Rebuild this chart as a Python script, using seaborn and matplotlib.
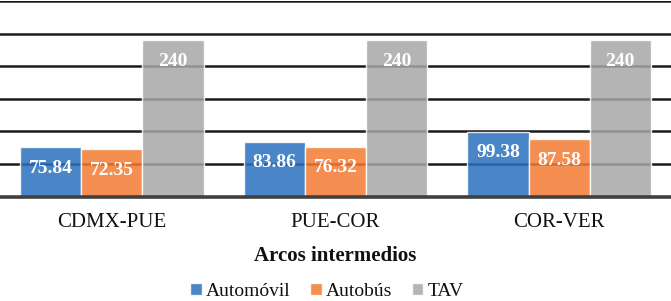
import matplotlib
matplotlib.use("Agg")
import matplotlib.pyplot as plt
import pandas as pd
import seaborn as sns

# values
arcos = ["CDMX-PUE", "PUE-COR", "COR-VER"]
modos = ["Automóvil", "Autobús", "TAV"]
automovil = [75.84, 83.86, 99.38]
autobus = [72.35, 76.32, 87.58]
tav = [240, 240, 240]

palette = ["#2A71BE", "#F37B33", "#A7A7A7"]

df = pd.DataFrame({
    "arco": arcos * 3,
    "modo": [modos[0]] * 3 + [modos[1]] * 3 + [modos[2]] * 3,
    "valor": automovil + autobus + tav,
})

sns.set_theme(style="white")
plt.rcParams["font.family"] = ["Liberation Serif", "DejaVu Serif"]

fig = plt.figure(figsize=(6.71, 3.01), dpi=100)
ax = fig.add_axes([0.0, 0.347, 1.0, 0.650])

sns.barplot(
    data=df, x="arco", y="valor", hue="modo", palette=palette,
    width=0.82, alpha=0.85, saturation=1, edgecolor="white", linewidth=1.0,
    ax=ax, legend=True, zorder=3,
)

ax.set_ylim(0, 300)
ax.set_xlim(-0.5, 2.5)
ax.set_yticks(range(0, 301, 50))
ax.set_yticklabels([])
ax.tick_params(axis="y", length=0)
ax.tick_params(axis="x", length=0, pad=12, labelsize=15, labelcolor="#111111")
ax.yaxis.grid(True, color="#1a1a1a", linewidth=1.8, zorder=1)
ax.set_axisbelow(True)
for s in ["left", "right", "top"]:
    ax.spines[s].set_visible(False)
ax.spines["bottom"].set_color("#404040")
ax.spines["bottom"].set_linewidth(2.6)
ax.spines["bottom"].set_zorder(4)
ax.set_ylabel("")
ax.set_xlabel("")
fig.text(0.5, 1 - 256 / 301, "Arcos intermedios", ha="center", va="center",
         fontsize=15, fontweight="bold", color="#111111")

for cont in ax.containers:
    for bar in cont:
        h = bar.get_height()
        ax.annotate(f"{h:g}", (bar.get_x() + bar.get_width() / 2, h),
                    xytext=(0, -21), textcoords="offset pixels",
                    ha="center", va="center", color="white",
                    fontsize=14, fontweight="bold", zorder=5)

handles, labels = ax.get_legend_handles_labels()
ax.get_legend().remove()
fig.legend(handles, labels, loc="center", bbox_to_anchor=(0.487, 0.032),
           ncol=3, frameon=False, fontsize=14, handlelength=0.6,
           handleheight=0.6, handletextpad=0.22, columnspacing=1.0,
           labelcolor="#111111")

fig.savefig("out.png", dpi=100)
